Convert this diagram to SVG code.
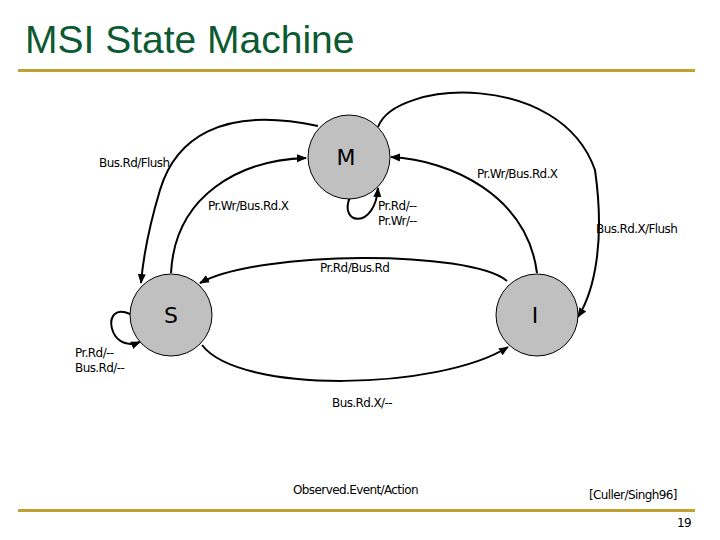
<svg xmlns="http://www.w3.org/2000/svg" width="720" height="540" viewBox="0 0 720 540">
<style>
.n{fill:#c0c0c0;stroke:#000;stroke-width:1}
.e{fill:none;stroke:#000;stroke-width:2}
.s{font-family:"DejaVu Sans",sans-serif;font-size:22px;text-anchor:middle}
.l{font-family:"DejaVu Sans",sans-serif;font-size:12px;letter-spacing:-0.6px}
</style>
<defs><marker id="a" viewBox="0 0 10 10" refX="9" refY="5" markerWidth="5" markerHeight="5" orient="auto"><path d="M0,1 L10,5 L0,9 z"/></marker></defs>
<rect width="720" height="540" fill="#fff"/>
<text x="25" y="53" font-family="Liberation Sans,Arial,sans-serif" font-size="39" fill="#0b5a32">MSI State Machine</text>
<rect x="18" y="69" width="677" height="3" fill="#c0a030"/>
<rect x="18" y="509" width="677" height="3" fill="#c0a030"/>
<g id="connectors">
<path class="e" marker-end="url(#a)" d="M318,126 C220,105 175,140 160,190 C148,230 143,260 141,283"/>
<path class="e" marker-end="url(#a)" d="M171,273 C175,195 240,160 306,158"/>
<path class="e" marker-end="url(#a)" d="M537,273 C527,195 450,160 391,157"/>
<path class="e" marker-end="url(#a)" d="M378,127 C395,80 560,70 595,170 C605,240 595,290 578,317"/>
<path class="e" marker-end="url(#a)" d="M350,197 C338,225 375,230 378,188"/>
<path class="e" marker-end="url(#a)" d="M507,281 C470,250 260,250 200,283"/>
<path class="e" marker-end="url(#a)" d="M202,345 C240,395 440,390 508,347"/>
<path class="e" marker-end="url(#a)" d="M130,314 C100,300 108,355 140,342"/>
</g>
<g id="M"><ellipse class="n" cx="349" cy="157" rx="41" ry="42"/><text class="s" x="346" y="165">M</text></g>
<g id="S"><ellipse class="n" cx="171" cy="315" rx="41" ry="41"/><text class="s" x="171" y="323">S</text></g>
<g id="I"><ellipse class="n" cx="537" cy="315" rx="41" ry="41"/><text class="s" x="535" y="323">I</text></g>
<g id="labels">
<text class="l" x="99" y="167">Bus.Rd/Flush</text>
<text class="l" x="208" y="210">Pr.Wr/Bus.Rd.X</text>
<text class="l" x="378" y="210">Pr.Rd/--</text>
<text class="l" x="378" y="225">Pr.Wr/--</text>
<text class="l" x="477" y="178">Pr.Wr/Bus.Rd.X</text>
<text class="l" x="596" y="233">Bus.Rd.X/Flush</text>
<text class="l" x="320" y="272">Pr.Rd/Bus.Rd</text>
<text class="l" x="75" y="357">Pr.Rd/--</text>
<text class="l" x="75" y="372">Bus.Rd/--</text>
<text class="l" x="332" y="407">Bus.Rd.X/--</text>
<text class="l" x="293" y="494">Observed.Event/Action</text>
<text class="l" x="589" y="499">[Culler/Singh96]</text>
<text class="l" x="677" y="527">19</text>
</g>
</svg>
